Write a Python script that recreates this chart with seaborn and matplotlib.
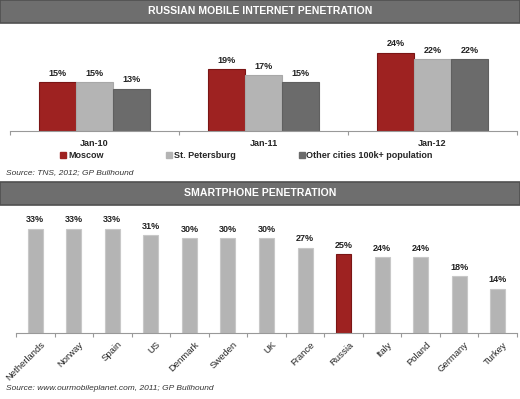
import numpy as np
import pandas as pd
import matplotlib
matplotlib.use('Agg')
import matplotlib.pyplot as plt
import matplotlib.transforms as mtransforms
from matplotlib.patches import Rectangle
from matplotlib.lines import Line2D
import seaborn as sns

# data
periods = ['Jan-10', 'Jan-11', 'Jan-12']
moscow = [15, 19, 24]
st_petersburg = [15, 17, 22]
other_cities = [13, 15, 22]
series_names = ['Moscow', 'St. Petersburg', 'Other cities 100k+ population']

countries = ['Netherlands', 'Norway', 'Spain', 'US', 'Denmark', 'Sweden', 'UK',
             'France', 'Russia', 'Italy', 'Poland', 'Germany', 'Turkey']
smartphone = [33, 33, 33, 31, 30, 30, 30, 27, 25, 24, 24, 18, 14]

RED = '#9e2221'
LIGHT = '#b4b4b4'
DARK = '#6b6b6b'
HEADER = '#6e6e6e'

sns.set_style('white')
plt.rcParams['font.family'] = ['Liberation Sans', 'DejaVu Sans']

W, H = 520, 399
fig = plt.figure(figsize=(W / 100, H / 100), dpi=100)


def px(x0, y0, x1, y1):
    # pixel box (top-left origin) -> figure fraction rect
    return [x0 / W, 1 - y1 / H, (x1 - x0) / W, (y1 - y0) / H]


def header(y0, y1, text):
    r = Rectangle((0, 1 - y1 / H), 1, (y1 - y0) / H, transform=fig.transFigure,
                  facecolor=HEADER, edgecolor='#505050', lw=1.2)
    fig.patches.append(r)
    fig.text(0.5, 1 - (y0 + y1) / 2 / H, text, color='white', fontsize=7.6,
             fontweight='bold', ha='center', va='center')


def style_axis(ax, n):
    ax.set_xlabel('')
    ax.set_ylabel('')
    ax.set_yticks([])
    for s in ['top', 'right', 'left']:
        ax.spines[s].set_visible(False)
    ax.spines['bottom'].set_color('#999999')
    ax.spines['bottom'].set_linewidth(0.8)
    ax.set_xlim(-0.5, n - 0.5)
    ax.set_xticks(np.arange(n + 1) - 0.5, minor=True)
    ax.tick_params(axis='x', which='major', bottom=False, length=0)
    ax.tick_params(axis='x', which='minor', bottom=True, length=3, color='#999999',
                   width=0.8, direction='out')


header(0, 23, 'RUSSIAN MOBILE INTERNET PENETRATION')
header(182, 205, 'SMARTPHONE PENETRATION')

# top chart
df = pd.DataFrame({
    'period': periods * 3,
    'series': np.repeat(series_names, len(periods)),
    'value': moscow + st_petersburg + other_cities,
})
ax1 = fig.add_axes(px(10, 33, 517, 131))
sns.barplot(data=df, x='period', y='value', hue='series', hue_order=series_names,
            palette=[RED, LIGHT, DARK], width=0.66, saturation=1, ax=ax1, legend=False)
edges = ['#7a1515', '#a8a8a8', '#606060']
for cont, ec in zip(ax1.containers, edges):
    for b in cont:
        b.set_edgecolor(ec)
        b.set_linewidth(0.8)
    ax1.bar_label(cont, fmt='%d%%', padding=3, fontsize=6.5, fontweight='bold',
                  color='#222222')
ax1.set_ylim(0, 30)
style_axis(ax1, len(periods))
ax1.set_xticks(np.arange(len(periods)))
ax1.set_xticklabels(periods, fontsize=6.5, fontweight='bold')
ax1.tick_params(axis='x', which='major', pad=6)

handles = [Line2D([], [], marker='s', ls='', color=c, markersize=4)
           for c in [RED, LIGHT, DARK]]
fig.legend(handles, series_names, loc='center', bbox_to_anchor=(247 / W, 1 - 156 / H),
           ncol=3, frameon=False, handlelength=0.5, handletextpad=0.3,
           columnspacing=7, prop={'size': 6.5, 'weight': 'bold'})

fig.text(6 / W, 1 - 173 / H, 'Source: TNS, 2012; GP Bullhound', fontsize=6,
         style='italic', color='#333333', va='center')

# bottom chart
ax2 = fig.add_axes(px(16, 219, 517, 333))
colors = [RED if c == 'Russia' else LIGHT for c in countries]
sns.barplot(x=countries, y=smartphone, hue=countries, palette=colors, width=0.39,
            saturation=1, ax=ax2, legend=False)
for cont, c in zip(ax2.containers, countries):
    for b in cont:
        b.set_edgecolor('#7a1515' if c == 'Russia' else '#c8c8c8')
        b.set_linewidth(0.8)
    ax2.bar_label(cont, fmt='%d%%', padding=3, fontsize=6.5, fontweight='bold',
                  color='#222222')
ax2.set_ylim(0, 36)
style_axis(ax2, len(countries))
ax2.set_xticks(np.arange(len(countries)))
ax2.set_xticklabels(countries, fontsize=6.8, rotation=45, ha='right',
                    rotation_mode='anchor')
ax2.tick_params(axis='x', which='major', pad=5)
shift = mtransforms.ScaledTranslation(5 / 100, 0, fig.dpi_scale_trans)
for lbl in ax2.get_xticklabels():
    lbl.set_transform(lbl.get_transform() + shift)

fig.text(6 / W, 1 - 388 / H, 'Source: www.ourmobileplanet.com, 2011; GP Bullhound',
         fontsize=6, style='italic', color='#333333', va='center')

fig.savefig('out.png', dpi=100, facecolor='white')
